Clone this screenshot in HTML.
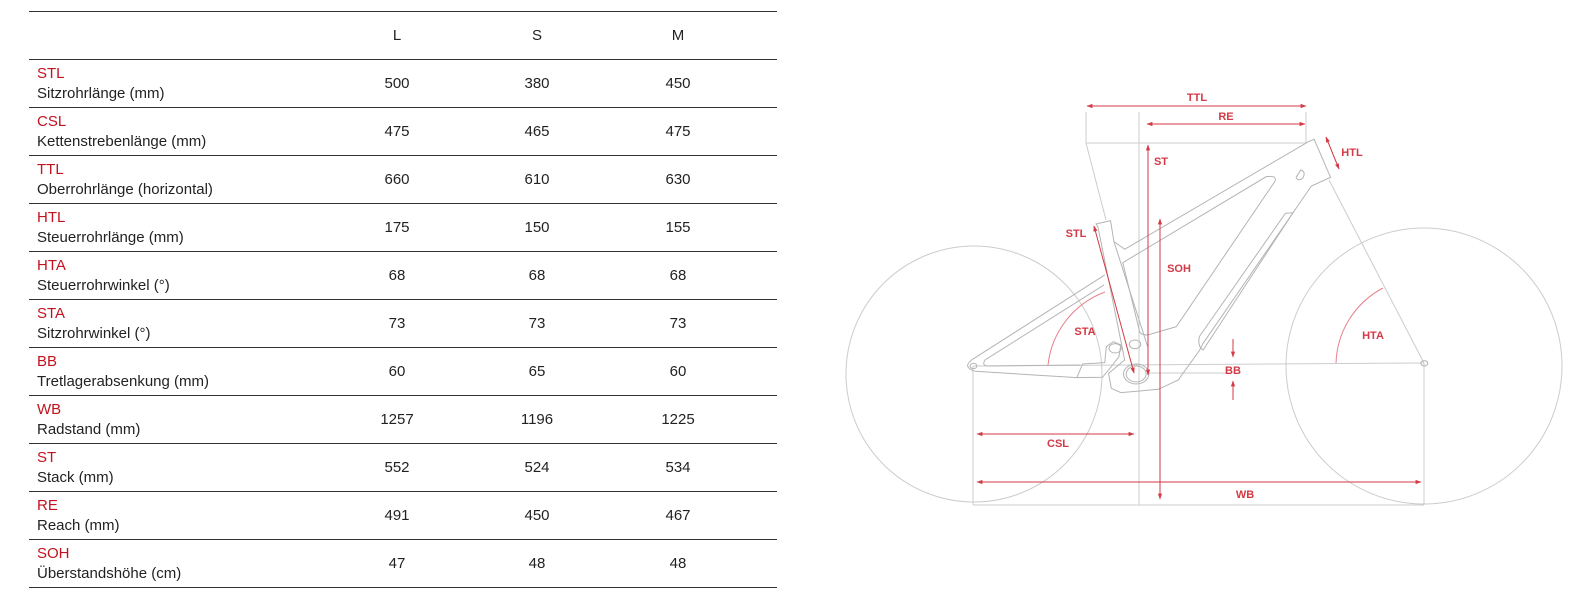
<!DOCTYPE html>
<html><head><meta charset="utf-8"><style>
html,body{margin:0;padding:0;background:#fff;width:1587px;height:602px;overflow:hidden}
svg{display:block}
.t{font-family:"Liberation Sans Narrow","Liberation Sans",sans-serif;font-size:15px;fill:#222}
.r{fill:#c2121f}
.n{text-anchor:middle}
.d{font-family:"Liberation Sans Narrow","Liberation Sans",sans-serif;font-size:11px;font-weight:bold;fill:#d33a45;text-anchor:middle}
</style></head><body>
<svg width="1587" height="602" viewBox="0 0 1587 602" xmlns="http://www.w3.org/2000/svg">
<defs>
<marker id="a" viewBox="0 0 10 10" refX="9" refY="5" markerWidth="6" markerHeight="6" orient="auto-start-reverse"><path d="M0,1.5 L10,5 L0,8.5 Z" fill="#d33a45"/></marker>
</defs>
<g stroke="#333" stroke-width="1">
<line x1="29" y1="11.5" x2="777" y2="11.5"/>
<line x1="29" y1="59.5" x2="777" y2="59.5"/>
<line x1="29" y1="107.5" x2="777" y2="107.5"/>
<line x1="29" y1="155.5" x2="777" y2="155.5"/>
<line x1="29" y1="203.5" x2="777" y2="203.5"/>
<line x1="29" y1="251.5" x2="777" y2="251.5"/>
<line x1="29" y1="299.5" x2="777" y2="299.5"/>
<line x1="29" y1="347.5" x2="777" y2="347.5"/>
<line x1="29" y1="395.5" x2="777" y2="395.5"/>
<line x1="29" y1="443.5" x2="777" y2="443.5"/>
<line x1="29" y1="491.5" x2="777" y2="491.5"/>
<line x1="29" y1="539.5" x2="777" y2="539.5"/>
<line x1="29" y1="587.5" x2="777" y2="587.5"/>
</g>
<text class="t n" x="397" y="40">L</text><text class="t n" x="537" y="40">S</text><text class="t n" x="678" y="40">M</text>
<g fill="none" stroke="#cccccc" stroke-width="1">
<circle cx="974" cy="374" r="128"/>
<circle cx="1424" cy="366" r="138"/>
<line x1="973" y1="366" x2="1424" y2="363"/>
<line x1="973" y1="366" x2="973" y2="505"/>
<line x1="1424" y1="363" x2="1424" y2="505"/>
<line x1="973" y1="505" x2="1424" y2="505"/>
<line x1="1139" y1="112" x2="1139" y2="505"/>
<line x1="1086" y1="112" x2="1086" y2="143"/>
<line x1="1306" y1="112" x2="1306" y2="143"/>
<line x1="1086" y1="143" x2="1306" y2="143"/>
<line x1="1086" y1="143" x2="1106" y2="220"/>
<line x1="1329" y1="180" x2="1424" y2="363"/>
<line x1="1148" y1="373" x2="1228" y2="373"/>
</g>
<g fill="none" stroke="#b4b4b4" stroke-width="1" transform="matrix(0.3827,0,0,0.3333,830,80)">
<path vector-effect="non-scaling-stroke" d="M695,432 L733,422 L742,485 L770,508 L1250,185 L1265,178 L1308,292 L1258,318 L975,790 L965,812 L910,900 L858,928 L760,938 L735,925 L728,880 L770,840 L700,440 Z"/>
<path vector-effect="non-scaling-stroke" d="M765,548 L1140,290 Q1170,285 1162,305 L905,740 L830,765 Q808,765 808,750 Z"/>
<path vector-effect="non-scaling-stroke" d="M1190,400 L1210,398 L975,810 Q960,800 965,770 Z"/>
<path vector-effect="non-scaling-stroke" d="M1230,270 Q1245,275 1235,295 Q1222,305 1218,292 Z"/>
<path vector-effect="non-scaling-stroke" d="M718,585 L370,840 Q345,862 380,874 L645,893 L712,892 L735,860 L755,830 L760,795 L740,785 L722,800 L718,848 L660,852 L645,893"/>
<path vector-effect="non-scaling-stroke" d="M716,615 L405,840 Q395,858 415,858 L655,855"/>
<path vector-effect="non-scaling-stroke" d="M742,485 L830,800"/>
<ellipse vector-effect="non-scaling-stroke" cx="745" cy="805" rx="16" ry="14"/>
<ellipse vector-effect="non-scaling-stroke" cx="797" cy="793" rx="15" ry="13"/>
<ellipse vector-effect="non-scaling-stroke" cx="800" cy="882" rx="33" ry="30"/>
<ellipse vector-effect="non-scaling-stroke" cx="800" cy="882" rx="26" ry="24"/>
<ellipse vector-effect="non-scaling-stroke" cx="375" cy="858" rx="9" ry="8"/>
<ellipse vector-effect="non-scaling-stroke" cx="1553" cy="850" rx="9" ry="8"/>
</g>
<g fill="none" stroke="#e8808a" stroke-width="1">
<path d="M1048,365 A88,88 0 0 1 1105,292"/>
<path d="M1336,363 A88,88 0 0 1 1383,288"/>
</g>
<g fill="none" stroke="#d33a45" stroke-width="1" marker-start="url(#a)" marker-end="url(#a)">
<line x1="1087" y1="106" x2="1306" y2="106"/>
<line x1="1147" y1="124" x2="1305" y2="124"/>
<line x1="1148" y1="145" x2="1148" y2="375"/>
<line x1="1160" y1="219" x2="1160" y2="499"/>
<line x1="1326" y1="137" x2="1339" y2="169"/>
<line x1="1094" y1="226" x2="1134" y2="373"/>
<line x1="977" y1="434" x2="1134" y2="434"/>
<line x1="977" y1="482" x2="1421" y2="482"/>
</g>
<g fill="none" stroke="#d33a45" stroke-width="1">
<line x1="1233" y1="339" x2="1233" y2="357" marker-end="url(#a)"/>
<line x1="1233" y1="400" x2="1233" y2="381" marker-end="url(#a)"/>
</g>
<text class="d" x="1197" y="101">TTL</text>
<text class="d" x="1226" y="120">RE</text>
<text class="d" x="1161" y="165">ST</text>
<text class="d" x="1352" y="156">HTL</text>
<text class="d" x="1076" y="237">STL</text>
<text class="d" x="1179" y="272">SOH</text>
<text class="d" x="1085" y="335">STA</text>
<text class="d" x="1373" y="339">HTA</text>
<text class="d" x="1233" y="374">BB</text>
<text class="d" x="1058" y="447">CSL</text>
<text class="d" x="1245" y="498">WB</text>
<g>
<text class="t r" x="37" y="78">STL</text><text class="t" x="37" y="98">Sitzrohrlänge (mm)</text>
<text class="t n" x="397" y="88">500</text><text class="t n" x="537" y="88">380</text><text class="t n" x="678" y="88">450</text>
<text class="t r" x="37" y="126">CSL</text><text class="t" x="37" y="146">Kettenstrebenlänge (mm)</text>
<text class="t n" x="397" y="136">475</text><text class="t n" x="537" y="136">465</text><text class="t n" x="678" y="136">475</text>
<text class="t r" x="37" y="174">TTL</text><text class="t" x="37" y="194">Oberrohrlänge (horizontal)</text>
<text class="t n" x="397" y="184">660</text><text class="t n" x="537" y="184">610</text><text class="t n" x="678" y="184">630</text>
<text class="t r" x="37" y="222">HTL</text><text class="t" x="37" y="242">Steuerrohrlänge (mm)</text>
<text class="t n" x="397" y="232">175</text><text class="t n" x="537" y="232">150</text><text class="t n" x="678" y="232">155</text>
<text class="t r" x="37" y="270">HTA</text><text class="t" x="37" y="290">Steuerrohrwinkel (°)</text>
<text class="t n" x="397" y="280">68</text><text class="t n" x="537" y="280">68</text><text class="t n" x="678" y="280">68</text>
<text class="t r" x="37" y="318">STA</text><text class="t" x="37" y="338">Sitzrohrwinkel (°)</text>
<text class="t n" x="397" y="328">73</text><text class="t n" x="537" y="328">73</text><text class="t n" x="678" y="328">73</text>
<text class="t r" x="37" y="366">BB</text><text class="t" x="37" y="386">Tretlagerabsenkung (mm)</text>
<text class="t n" x="397" y="376">60</text><text class="t n" x="537" y="376">65</text><text class="t n" x="678" y="376">60</text>
<text class="t r" x="37" y="414">WB</text><text class="t" x="37" y="434">Radstand (mm)</text>
<text class="t n" x="397" y="424">1257</text><text class="t n" x="537" y="424">1196</text><text class="t n" x="678" y="424">1225</text>
<text class="t r" x="37" y="462">ST</text><text class="t" x="37" y="482">Stack (mm)</text>
<text class="t n" x="397" y="472">552</text><text class="t n" x="537" y="472">524</text><text class="t n" x="678" y="472">534</text>
<text class="t r" x="37" y="510">RE</text><text class="t" x="37" y="530">Reach (mm)</text>
<text class="t n" x="397" y="520">491</text><text class="t n" x="537" y="520">450</text><text class="t n" x="678" y="520">467</text>
<text class="t r" x="37" y="558">SOH</text><text class="t" x="37" y="578">Überstandshöhe (cm)</text>
<text class="t n" x="397" y="568">47</text><text class="t n" x="537" y="568">48</text><text class="t n" x="678" y="568">48</text>
</g>
</svg>
</body></html>
